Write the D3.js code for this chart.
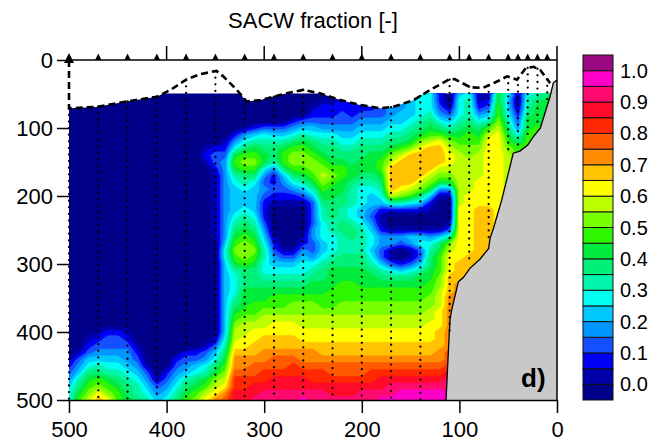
<!DOCTYPE html>
<html>
<head>
<meta charset="utf-8">
<script src="https://cdn.jsdelivr.net/npm/d3@7"></script>
<style>
  body { margin: 0; background: #fff; }
  text { font-family: "Liberation Sans", Arial, Helvetica, sans-serif; fill: #000; }
</style>
</head>
<body>
<svg id="chart" width="652" height="447"></svg>
<script>
// ---------------- data ----------------
const gridKm = [500,490,480,470,460,450,440,430,420,410,400,390,380,370,360,350,340,330,320,310,300,290,280,270,260,250,240,230,220,210,200,190,180,170,160,150,140,130,120,110,100,90,80,70,60,50,40,30,20,10,0];
const gridDepth = [50,60,70,80,90,100,110,120,130,140,150,160,170,180,190,200,210,220,230,240,250,260,270,280,290,300,310,320,330,340,350,360,370,380,390,400,410,420,430,440,450,460,470,480,490,500];
// one string per gridKm column, one character per gridDepth row: colour class 0..L (class k = fraction band [(k-1)*0.05, k*0.05))
const profiles = [
  "0000000000 0000000000 0000000000 0000000001 234566",
  "0000000000 0000000000 0000000000 0000000013 45789A",
  "0000000000 0000000000 0000000000 0000001235 689ABC",
  "0000000000 0000000000 0000000000 0000012345 78ABDE",
  "0000000000 0000000000 0000000000 0000023345 679ABD",
  "0000000000 0000000000 0000000000 0000023345 6789AA",
  "0000000000 0000000000 0000000000 0000012344 567889",
  "0000000000 0000000000 0000000000 0000000123 456778",
  "0000000000 0000000000 0000000000 0000000000 134567",
  "0000000000 0000000000 0000000000 0000000000 001345",
  "0000000000 0000000000 0000000000 0000000000 023456",
  "0000000000 0000000000 0000000000 0000000002 345678",
  "0000000000 0000000000 0000000000 0000000023 45789A",
  "0000000000 0000000000 0000000000 0000000023 5689AB",
  "0000000012 1000000000 0000000000 0000000134 679ACD",
  "0000000023 3211111111 1100000000 0000001356 89BCDF",
  "0000000123 4444444444 4456655555 5555556789 ABCDFG",
  "0000002469 A976555567 89ABA97666 789ABCCDEF FGHHII",
  "000001468A BA87655678 9ABBBA8889 99ABCCDDEF FGHHII",
  "000002579A BA86555567 89ABA98889 9AABCDDEEF GGHIIJ",
  "0000036789 9643432223 4567766789 9ABCCDEEFF GHHIJJ",
  "0000035788 7422321000 0123456789 AABCDDEEFG GHIIJJ",
  "000003579A A854321000 0001356789 AABCDDEEFG GHIIJJ",
  "00002468AB BA86421000 0001356789 ABBCDDEEFG HHIIJJ",
  "00003579AB BA97531000 0124566789 ABBCCDDEFF GHIIJK",
  "001235689A BBA9753333 4433467899 ABBCCDDEFF GHHIJJ",
  "0122346789 ABCBA98776 6655678899 AABCCDDEEF GHHIJJ",
  "0122346788 9ABA998887 766678999A AABCCDDEEF GGHIIJ",
  "1223345678 9AA9988778 87778899AA ABBCCDDEEF GGHIIJ",
  "1222345678 8998777667 88778899AA ABBCCDDEEF GGHIIJ",
  "2223456788 9987666556 777788999A ABBCCDDEEF GGHIJJ",
  "2223456789 9987655434 566567899A ABBCCDDEEF GHHIJJ",
  "2333456789 AA98765211 244335789A ABBCCDDEEF GHIIJK",
  "334456789B CEEEEC7200 144113689A ABBCCDDEEF GHIJJK",
  "44455678AC EEEEDB7200 143002589A ABBCCDDEEF GHIJKK",
  "45556789BE EEEECA6200 154113689A ABBCCDDEEF GHIJKK",
  "5666789BDE EEECB85200 156335799A ABBCCDDEEF GHIJKK",
  "666789ACEE EECB952100 14678899AA BBCCDDDEEF GHIJKK",
  "223468ADEE ECB9410000 1589AAABBC CCDDDEEEFF GHIJKK",
  "0013579BCD DCB9410001 37BCDDDEEE FFFFFFFFGG HIJJKK",
  "5666789ABC CCCCCCCDDD DDDDDEEEFF FFFFFFFFFF FFFFFF",
  "677789AABB CCCCCDDDDD DDDDEEEEEE EEEEEEEEEE EEEEEE",
  "1124689ABC CCCDDDDEEE EEEEEEEEEE EEEEEEEEEE EEEEEE",
  "12357ACDDD DDDDDDDEEE EEEEEEEEEE EEEEEEEEEE EEEEEE",
  "99AABCDDDD DDDDDDDDDD DDDDDDDDDD DDDDDDDDDD DDDDDD",
  "6556789ABC CCCCCCCCCC CCCCCCCCCC CCCCCCCCCC CCCCCC",
  "10123468AA AAAAAAAAAA AAAAAAAAAA AAAAAAAAAA AAAAAA",
  "677899AAAA AAAAAAAAAA AAAAAAAAAA AAAAAAAAAA AAAAAA",
  "78999AAAAA AAAAAAAAAA AAAAAAAAAA AAAAAAAAAA AAAAAA",
  "8999999999 9999999999 9999999999 9999999999 999999",
  "9999999999 9999999999 9999999999 9999999999 999999"
];
const levelBounds = [0,0.05,0.1,0.15,0.2,0.25,0.3,0.35,0.4,0.45,0.5,0.55,0.6,0.65,0.7,0.75,0.8,0.85,0.9,0.95,1.0];
const levelColors = ["#000088","#0000AA","#0000F5","#1450FF","#0096FF","#00C8FF","#00FFF0","#00F5AA",
  "#00F078","#00EB3C","#2EF500","#78FF00","#BEFF00","#FFFF00","#FFC300","#FF8C00","#FF5A00",
  "#FF2800","#FF0A28","#FF0A6E","#FF00C8","#9B0A82"];
const colorbarTicks = [0.0,0.1,0.2,0.3,0.4,0.5,0.6,0.7,0.8,0.9,1.0];
const xTicks = [500,400,300,200,100,0];
const yTicks = [0,100,200,300,400,500];
const stationKm =     [500,470,440,410,380,350,320,290,260,230,200,170,140,110, 90, 70, 50, 40, 30, 20, 10];
const stationBottom = [500,500,500,500,500,500,500,500,500,500,500,500,500,405,300,265,140,125,115, 92, 58];
const upperLine = [[500,0],[500,71],[472,69],[441,61],[410,54],[396,44],[379,28],[366,21],[349,16],[342,24],
  [328,44],[318,61],[304,59],[277,49],[260,44],[243,49],[222,59],[202,66],[181,71],[168,69],[147,59],[130,44],
  [111,29],[105,28],[89,40],[76,41],[62,32],[51,24],[41,29],[32,12],[24,10],[17,15],[7,34]];
const bathymetry = [[113.7,500],[110.5,405],[109.6,382],[108,368],[101,326],[96,320],[89,306],[79,293],[70,277],
  [68.6,262],[65,247],[56.7,206],[44.8,137],[38,134],[30,125],[24.3,113],[17,100],[7.2,54],[3.8,34],[0,29]];
const dataTopDepth = 49;

// ---------------- drawing ----------------
const svg = d3.select("#chart");
const x = d3.scaleLinear().domain([500, 0]).range([69, 557]);
const y = d3.scaleLinear().domain([0, 500]).range([60, 400]);
const cb = d3.scaleLinear().domain([-0.05, 1.05]).range([400, 55]);

const nx = gridKm.length, ny = gridDepth.length;
const cols = profiles.map(s => s.replace(/ /g, ""));
const step = levelBounds[1] - levelBounds[0];
const values = new Float64Array(nx * ny);
for (let j = 0; j < ny; j++)
  for (let i = 0; i < nx; i++)
    values[j * nx + i] = levelBounds[0] + (parseInt(cols[i][j], 36) - 0.5) * step;

const toScreen = d3.geoTransform({
  point(px, py) {
    const km = gridKm[0] + (gridKm[1] - gridKm[0]) * (px - 0.5);
    const dep = gridDepth[0] + (gridDepth[1] - gridDepth[0]) * (py - 0.5);
    this.stream.point(x(km), y(dep));
  }
});
const path = d3.geoPath(toScreen);
const contours = d3.contours().size([nx, ny]).thresholds(levelBounds)(values);

svg.append("defs").append("clipPath").attr("id", "dataClip")
  .append("rect")
  .attr("x", x(500)).attr("y", y(dataTopDepth))
  .attr("width", x(0) - x(500)).attr("height", y(500) - y(dataTopDepth));

const field = svg.append("g").attr("clip-path", "url(#dataClip)");
field.append("rect")
  .attr("x", x(500)).attr("y", y(dataTopDepth))
  .attr("width", x(0) - x(500)).attr("height", y(500) - y(dataTopDepth))
  .attr("fill", levelColors[0]);
field.selectAll("path.band").data(contours).join("path")
  .attr("class", "band")
  .attr("d", path)
  .attr("fill", (d, i) => levelColors[i + 1])
  .attr("stroke", (d, i) => levelColors[i + 1])
  .attr("stroke-width", 0.4);

const line = d3.line().x(d => x(d[0])).y(d => y(d[1]));

// white area above upper sampling line
const maskPts = upperLine.concat([bathymetry[bathymetry.length - 2], bathymetry[bathymetry.length - 1], [0, 0]]);
svg.append("path").attr("d", line(maskPts) + "Z").attr("fill", "#fff");

// bathymetry
svg.append("path").attr("d", line(bathymetry.concat([[0, 500]])) + "Z").attr("fill", "#C8C8C8");
svg.append("path").attr("d", line(bathymetry)).attr("fill", "none").attr("stroke", "#000").attr("stroke-width", 1.3);

// station profiles (dotted)
function topAt(km) {
  const pts = upperLine.slice(1);
  for (let k = 0; k < pts.length - 1; k++) {
    const a = pts[k], b = pts[k + 1];
    if (km <= a[0] && km >= b[0]) {
      const t = (a[0] - km) / (a[0] - b[0] || 1);
      return a[1] + t * (b[1] - a[1]);
    }
  }
  return pts[pts.length - 1][1];
}
svg.append("g").selectAll("line").data(stationKm).join("line")
  .attr("x1", d => x(d)).attr("x2", d => x(d))
  .attr("y1", d => y(topAt(d)))
  .attr("y2", (d, i) => y(stationBottom[i]))
  .attr("stroke", "#000").attr("stroke-width", 2.3)
  .attr("stroke-linecap", "round").attr("stroke-dasharray", "0,6.6");

// upper dashed line
svg.append("path").attr("d", line(upperLine)).attr("fill", "none")
  .attr("stroke", "#000").attr("stroke-width", 2.6).attr("stroke-dasharray", "7,4");

// top line, ticks, station triangles
svg.append("line").attr("x1", x(500)).attr("x2", x(0)).attr("y1", y(0)).attr("y2", y(0))
  .attr("stroke", "#000").attr("stroke-width", 1.5);
svg.append("g").selectAll("line").data(xTicks.filter(d => d !== 500 && d !== 0)).join("line")
  .attr("x1", d => x(d)).attr("x2", d => x(d)).attr("y1", y(0)).attr("y2", y(0) - 14)
  .attr("stroke", "#000").attr("stroke-width", 1.5);
svg.append("line").attr("x1", x(0)).attr("x2", x(0)).attr("y1", y(0) - 14).attr("y2", y(500))
  .attr("stroke", "#000").attr("stroke-width", 1.5);
svg.append("g").selectAll("path").data(stationKm).join("path")
  .attr("d", (d, i) => {
    const cx = x(d), by = y(0), w = i === 0 ? 5 : 3.2, h = i === 0 ? 10 : 6.5, off = i === 0 ? 3 : 0;
    return `M${cx - w},${by + off}L${cx + w},${by + off}L${cx},${by + off - h}Z`;
  })
  .attr("fill", "#000");

// axes
const xAxis = svg.append("g").attr("transform", `translate(0,${y(500)})`)
  .call(d3.axisBottom(x).tickValues(xTicks).tickSize(13).tickSizeOuter(0).tickPadding(8).tickFormat(d3.format("d")));
xAxis.select(".domain").attr("stroke-width", 1.5);
xAxis.selectAll(".tick line").attr("stroke-width", 1.5);
xAxis.selectAll("text").attr("font-size", 22).attr("font-family", null);

const yAxis = svg.append("g").attr("transform", `translate(${x(500)},0)`)
  .call(d3.axisLeft(y).tickValues(yTicks).tickSize(12).tickSizeOuter(0).tickPadding(4).tickFormat(d3.format("d")));
yAxis.select(".domain").remove();
yAxis.selectAll(".tick line").attr("stroke-width", 1.5);
yAxis.selectAll("text").attr("font-size", 22).attr("font-family", null);

// colour bar
const boxes = levelColors.map((c, k) => ({
  c,
  lo: k === 0 ? levelBounds[0] - step : levelBounds[k - 1],
  hi: k < levelBounds.length ? levelBounds[k] : levelBounds[levelBounds.length - 1] + step
}));
svg.append("g").selectAll("rect").data(boxes).join("rect")
  .attr("x", 583).attr("width", 30)
  .attr("y", d => cb(d.hi)).attr("height", d => cb(d.lo) - cb(d.hi))
  .attr("fill", d => d.c).attr("stroke", "#111").attr("stroke-width", 1);
svg.append("g").selectAll("text").data(colorbarTicks).join("text")
  .attr("x", 620).attr("y", d => cb(d)).attr("dy", "0.35em")
  .attr("font-size", 20).text(d => d.toFixed(1));

// title & panel label
svg.append("text").attr("x", 313).attr("y", 28).attr("text-anchor", "middle")
  .attr("font-size", 22).text("SACW fraction [-]");
svg.append("text").attr("x", 521).attr("y", 387).attr("font-size", 26).attr("font-weight", "bold").text("d)");
</script>
</body>
</html>
